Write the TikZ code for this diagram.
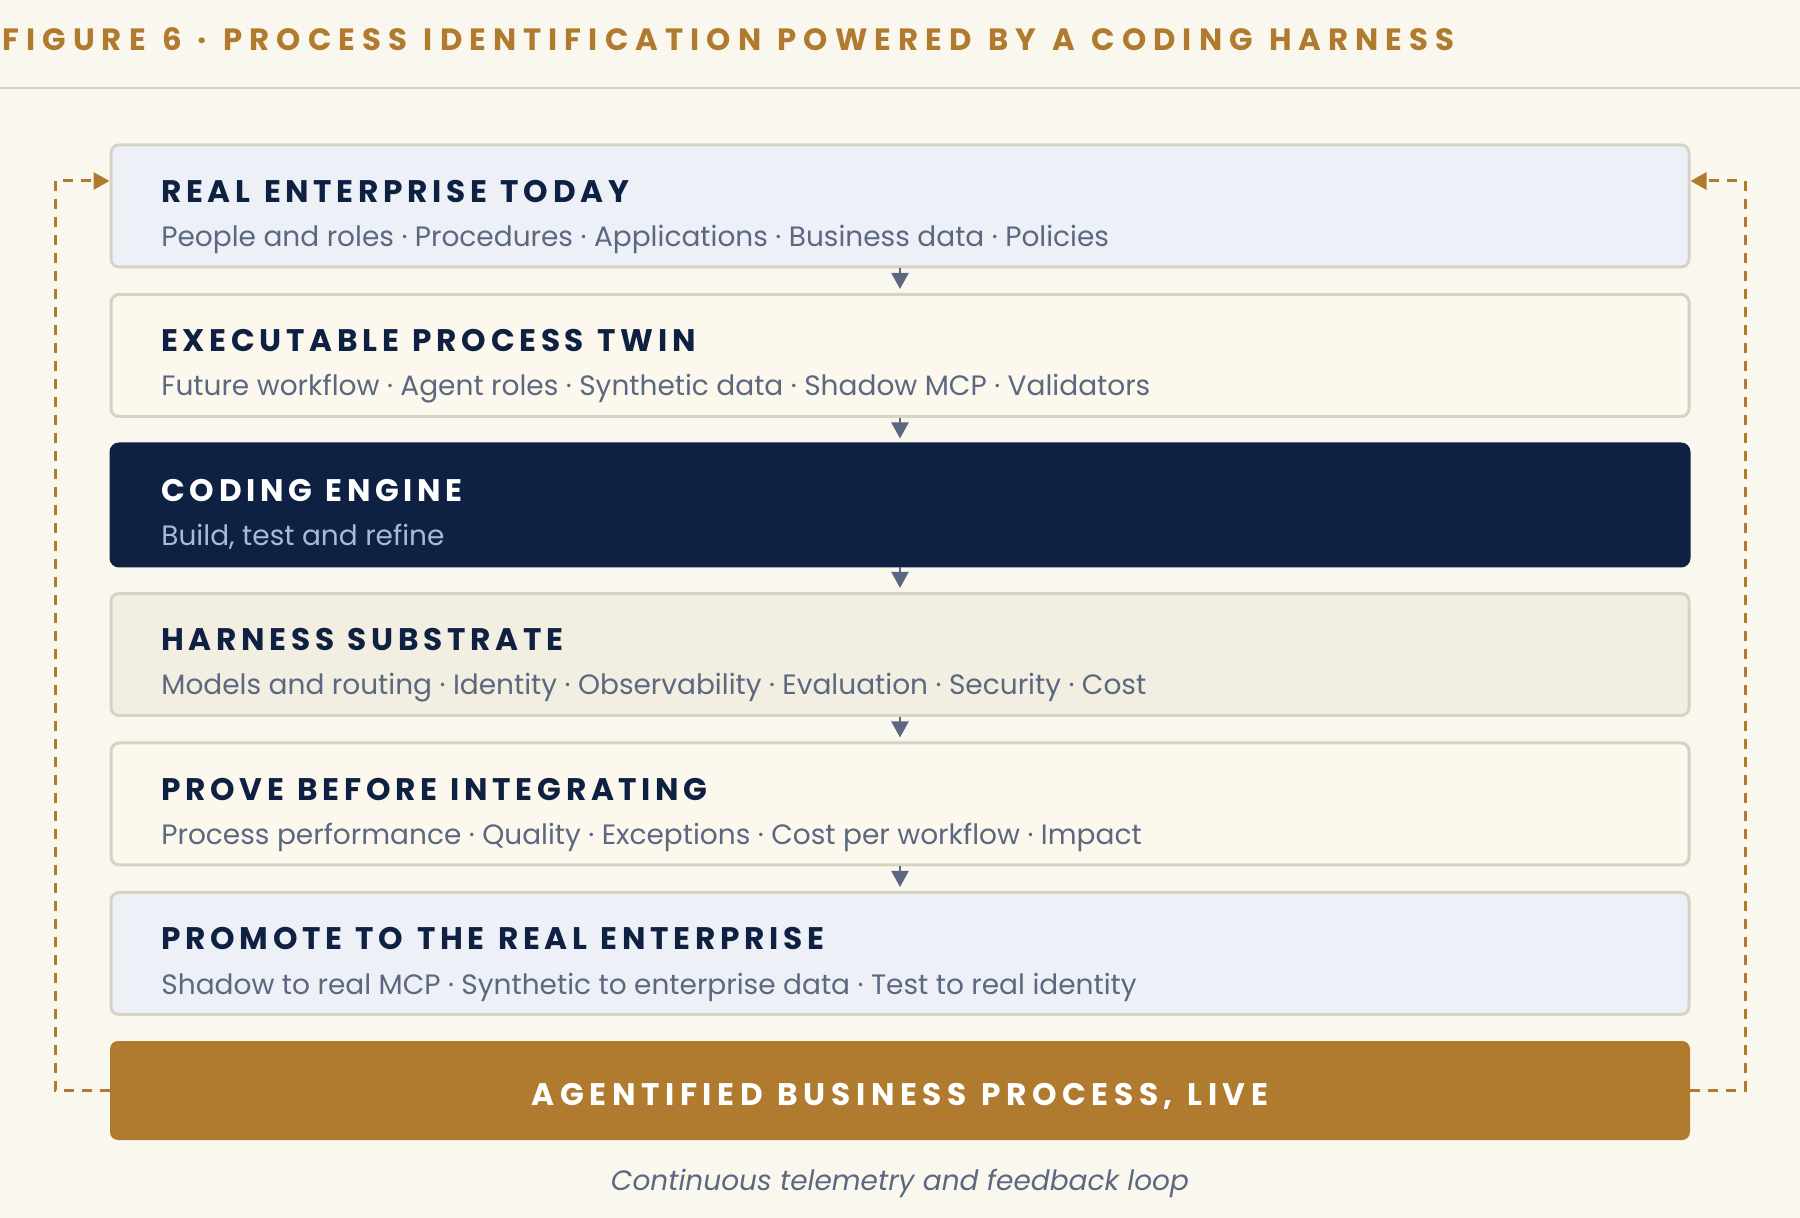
\documentclass[tikz,border=0pt]{standalone}
\usepackage{fontspec}
\setmainfont{Poppins}
\newfontfamily\capsfont[LetterSpace=15,WordSpace=1.2]{Poppins}
\newfontfamily\livefont[LetterSpace=18,WordSpace=1.2]{Poppins}
\newfontfamily\titlefont[LetterSpace=23,WordSpace=1.2]{Poppins}
\usetikzlibrary{positioning,arrows.meta}

\definecolor{paper}{HTML}{FAF7EF}
\definecolor{gold}{HTML}{B07B2E}
\definecolor{navy}{HTML}{0F2142}
\definecolor{slate}{HTML}{5B6880}
\definecolor{rulegray}{HTML}{D6D2C4}
\definecolor{boxblue}{HTML}{EDF1F7}
\definecolor{boxcream}{HTML}{FCF8EE}
\definecolor{boxsand}{HTML}{F2EEE1}
\definecolor{paleblue}{HTML}{A8BAD6}

\tikzset{
	box/.style={draw=rulegray, line width=1.5pt, rounded corners=4pt, fill=boxcream,
		minimum width=789pt, minimum height=61pt, inner sep=0pt},
	box 1/.style={fill=boxblue},
	box 3/.style={fill=navy, draw=navy},
	box 4/.style={fill=boxsand},
	box 6/.style={fill=boxblue},
	head/.style={anchor=base west, inner sep=0pt, text=navy,
		font=\capsfont\bfseries\fontsize{15.6}{18}\selectfont},
	head 3/.style={text=white},
	sub/.style={anchor=base west, inner sep=0pt, text=slate,
		font=\fontsize{14}{17}\selectfont},
	sub 3/.style={text=paleblue},
	flow/.style={-{Triangle[length=8pt, width=8.5pt]}, slate, line width=1pt, shorten >=2pt},
	feedback/.style={-{Triangle[length=8pt, width=8.5pt]}, gold, line width=1.5pt,
		dash pattern=on 5pt off 4pt}
}

\begin{document}
\begin{tikzpicture}[x=0.5pt, y=-0.5pt]
	\fill[paper] (0,0) rectangle (1800,1218);
	\useasboundingbox (0,0) rectangle (1800,1218);
	
	% title and rule
	\node [anchor=base west, inner sep=0pt, text=gold, font=\titlefont\bfseries\fontsize{15.4}{18}\selectfont]
	(figtitle) at (2,51) {FIGURE 6 · PROCESS IDENTIFICATION POWERED BY A CODING HARNESS};
	\draw [rulegray, line width=1pt] (0,88) -- (1800,88);
	
	% layers
	\foreach \nm/\hd/\sb [count=\i] in {
		real/{REAL ENTERPRISE TODAY}/{People and roles · Procedures · Applications · Business data · Policies},
		twin/{EXECUTABLE PROCESS TWIN}/{Future workflow · Agent roles · Synthetic data · Shadow MCP · Validators},
		engine/{CODING ENGINE}/{Build, test and refine},
		harness/{HARNESS SUBSTRATE}/{Models and routing · Identity · Observability · Evaluation · Security · Cost},
		prove/{PROVE BEFORE INTEGRATING}/{Process performance · Quality · Exceptions · Cost per workflow · Impact},
		promote/{PROMOTE TO THE REAL ENTERPRISE}/{Shadow to real MCP · Synthetic to enterprise data · Test to real identity}}
	{
		\node [box, box \i/.try] (\nm) at (900,{143.5+149.5*(\i-1)+62.5}) {};
		\node [head, head \i/.try] (\nm-head) at (161,{143.5+149.5*(\i-1)+59}) {\hd};
		\node [sub, sub \i/.try] (\nm-sub) at (161,{143.5+149.5*(\i-1)+103}) {\sb};
	}
	
	\foreach \a/\b in {real/twin, twin/engine, engine/harness, harness/prove, prove/promote}
	\draw [flow] (\a.south) -- (\b.north);
	
	% live process
	\node [fill=gold, rounded corners=4pt, minimum width=790pt, minimum height=49.5pt, inner sep=0pt]
	(live) at (900,1090.5) {};
	\node [anchor=base, inner sep=0pt, text=white, font=\livefont\bfseries\fontsize{15.6}{18}\selectfont]
	(live-text) at (900,1105) {AGENTIFIED BUSINESS PROCESS, LIVE};
	
	% feedback loop
	\coordinate (loopL) at (55,181);
	\coordinate (loopR) at (1745,181);
	\draw [feedback] (live.west) -| (loopL) -- (real.west |- loopL);
	\draw [feedback] (live.east) -| (loopR) -- (real.east |- loopR);
	
	\node [text=slate, font=\itshape\fontsize{14}{17}\selectfont] (loopnote) at (900,1183.5)
	{Continuous telemetry and feedback loop};
\end{tikzpicture}
\end{document}
